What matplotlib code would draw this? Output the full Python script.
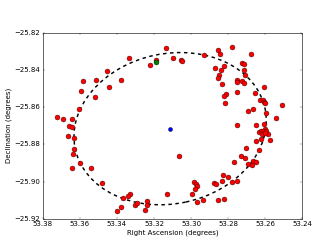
import matplotlib
matplotlib.use('Agg')
import matplotlib.pyplot as plt
from matplotlib.patches import Ellipse

plt.style.use('classic')

# red sources (RA, Dec in degrees)
ra = [53.3721, 53.3691, 53.3640, 53.3657, 53.3644, 53.3603, 53.3594, 53.3584,
      53.3518, 53.3514, 53.3455, 53.3444, 53.3378, 53.3335, 53.3222, 53.3191,
      53.3133, 53.3098, 53.3055, 53.3048, 53.2931, 53.2854, 53.2846, 53.2781,
      53.2679, 53.2870, 53.2837, 53.2822, 53.2852, 53.2856, 53.2726, 53.2716,
      53.2715, 53.2711, 53.2755, 53.2750, 53.2723, 53.2715, 53.2834, 53.2755,
      53.2812, 53.2824, 53.2816, 53.2656, 53.2607, 53.2628, 53.2614, 53.2607,
      53.2603, 53.2668, 53.2691, 53.2509, 53.2595, 53.2541, 53.2754, 53.2649,
      53.2606, 53.2599, 53.2634, 53.2622, 53.2611, 53.2594, 53.2588, 53.2618,
      53.2603, 53.2577, 53.2625, 53.2649, 53.2633, 53.2704, 53.2730, 53.2709,
      53.2668, 53.2650, 53.2695, 53.2670, 53.2768, 53.2827, 53.2802, 53.2874,
      53.2868, 53.2835, 53.2780, 53.2754, 53.2854, 53.2821, 53.3067, 53.2983,
      53.2975, 53.2967, 53.2981, 53.2993, 53.2938, 53.2966, 53.3128, 53.3331,
      53.3301, 53.3293, 53.3239, 53.3239, 53.3250, 53.3664, 53.3633, 53.3631,
      53.3638, 53.3597, 53.3643, 53.3540, 53.3478, 53.3365, 53.3340, 53.3376,
      53.3398]
dec = [-25.8652, -25.8665, -25.8665, -25.8702, -25.8704, -25.8611, -25.8512, -25.8457,
       -25.8547, -25.8453, -25.8406, -25.8490, -25.8451, -25.8337, -25.8374, -25.8348,
       -25.8282, -25.8335, -25.8344, -25.8352, -25.8317, -25.8294, -25.8315, -25.8275,
       -25.8315, -25.8390, -25.8398, -25.8377, -25.8427, -25.8440, -25.8360, -25.8366,
       -25.8399, -25.8428, -25.8455, -25.8465, -25.8458, -25.8470, -25.8477, -25.8516,
       -25.8528, -25.8537, -25.8575, -25.8521, -25.8492, -25.8559, -25.8561, -25.8573,
       -25.8579, -25.8607, -25.8619, -25.8585, -25.8631, -25.8656, -25.8693, -25.8694,
       -25.8691, -25.8719, -25.8733, -25.8729, -25.8727, -25.8725, -25.8743, -25.8744,
       -25.8739, -25.8775, -25.8770, -25.8784, -25.8831, -25.8819, -25.8861, -25.8872,
       -25.8888, -25.8894, -25.8905, -25.8912, -25.8896, -25.8966, -25.8977, -25.9005,
       -25.9013, -25.8999, -25.9003, -25.8998, -25.9100, -25.9092, -25.8861, -25.9004,
       -25.9013, -25.9026, -25.9041, -25.9069, -25.9098, -25.9109, -25.9068, -25.9067,
       -25.9124, -25.9113, -25.9107, -25.9125, -25.9155, -25.8753, -25.8763, -25.8824,
       -25.8854, -25.8902, -25.8929, -25.8929, -25.9008, -25.9090, -25.9079, -25.9135,
       -25.9160]

# highlighted source and cluster centre
green_ra, green_dec = [53.3187], [-25.8355]
centre_ra, centre_dec = [53.3113], [-25.8715]

# fitted ellipse (degrees)
ell_width = 0.1046
ell_height = 0.0808
ell_angle = -12

fig = plt.figure(figsize=(8, 6), dpi=42, facecolor='w')
fig.subplots_adjust(left=0.127, right=0.9, bottom=0.132, top=0.869)
ax = fig.add_subplot(111)

ell = Ellipse((centre_ra[0], centre_dec[0]), ell_width, ell_height, angle=ell_angle,
              fill=False, edgecolor='k', linestyle='--', linewidth=2.5, zorder=1)
ax.add_patch(ell)

ax.plot(ra, dec, 'o', color='r', markeredgecolor='k', markersize=8.5,
        markeredgewidth=0.6, zorder=2)
ax.plot(green_ra, green_dec, 'o', color='g', markeredgecolor='k', markersize=8.5,
        markeredgewidth=0.6, zorder=3)
ax.plot(centre_ra, centre_dec, 'o', color='b', markeredgecolor='k', markersize=7,
        markeredgewidth=0.6, zorder=3)

ax.set_xlim(53.38, 53.24)
ax.set_ylim(-25.92, -25.82)
ax.set_xticks([53.38, 53.36, 53.34, 53.32, 53.30, 53.28, 53.26, 53.24])
ax.set_yticks([-25.92, -25.90, -25.88, -25.86, -25.84, -25.82])
ax.ticklabel_format(useOffset=False)
ax.set_xlabel('Right Ascension (degrees)')
ax.set_ylabel('Declination (degrees)')

fig.savefig('out.png', dpi=42, facecolor='w')
